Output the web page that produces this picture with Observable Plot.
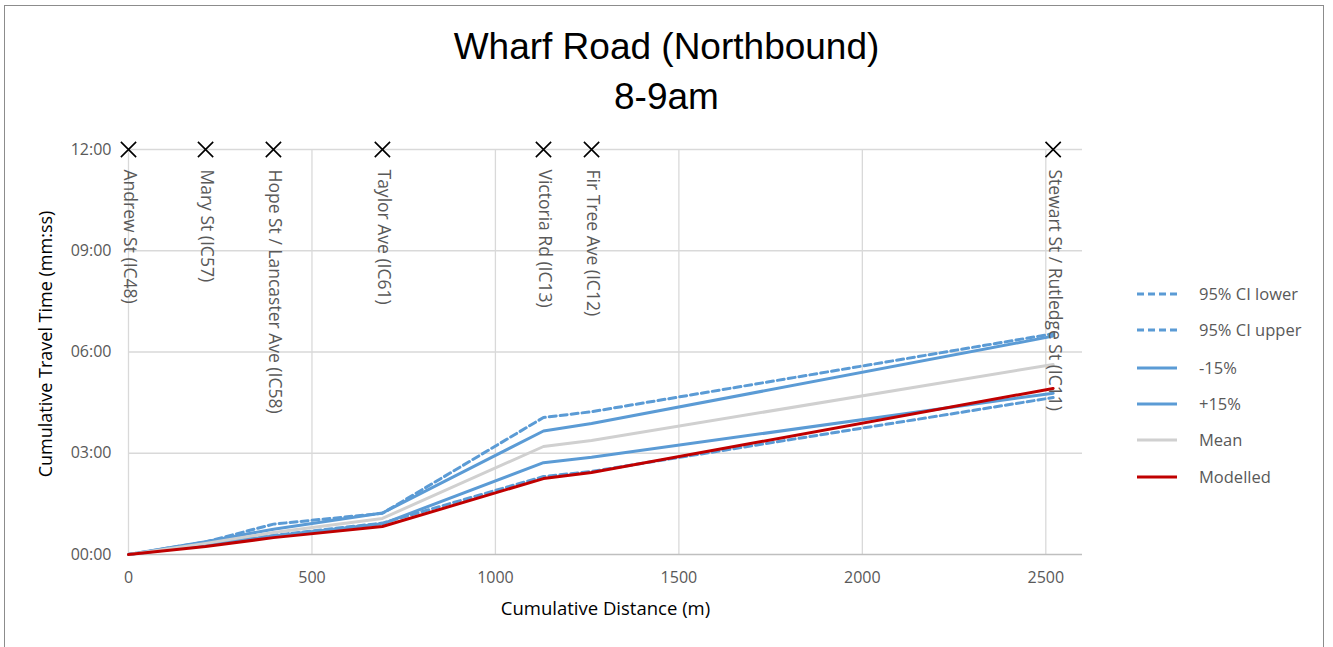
<!DOCTYPE html>
<html>
<head>
<meta charset="utf-8">
<script src="https://cdn.jsdelivr.net/npm/d3@7"></script>
<script src="https://cdn.jsdelivr.net/npm/@observablehq/plot@0.6"></script>
<style>
  body { margin: 0; background: #fff; }
  #wrap { position: relative; width: 1333px; height: 647px; overflow: hidden; font-family: "Open Sans", sans-serif; }
  #border { position: absolute; left: 4px; top: 5px; width: 1320px; height: 700px; border: 1.5px solid #8c8c8c; box-sizing: border-box; }
  #title { position: absolute; left: 0; top: 22px; width: 1333px; text-align: center; font-family: "Liberation Sans Narrow", "Arial Narrow", "Liberation Sans", sans-serif; font-size: 37px; line-height: 50px; color: #000; }
  #chart { position: absolute; left: 0; top: 125px; }
  #legend { position: absolute; left: 1137px; top: 280px; font-size: 16.5px; color: #595959; }
  .row { position: absolute; left: 0; height: 20px; width: 190px; white-space: nowrap; }
  .row svg { position: absolute; left: 0; top: 4px; }
  .row span { position: absolute; left: 62px; top: 0; line-height: 20px; }
</style>
</head>
<body>
<div id="wrap">
  <div id="border"></div>
  <div id="title">Wharf Road (Northbound)<br>8-9am</div>
  <div id="chart"></div>
  <div id="legend"></div>
</div>
<script>
// ---- data ----
const distances = [0, 210, 395, 692, 1131, 1262, 2520];
const intersections = ["Andrew St (IC48)", "Mary St (IC57)", "Hope St / Lancaster Ave (IC58)", "Taylor Ave (IC61)", "Victoria Rd (IC13)", "Fir Tree Ave (IC12)", "Stewart St / Rutledge St (IC11)"];
// cumulative travel time, minutes
const ciLower  = [0, 0.30, 0.57, 0.93, 2.31, 2.46, 4.65];
const ciUpper  = [0, 0.37, 0.90, 1.22, 4.06, 4.23, 6.54];
const minus15  = [0, 0.28, 0.55, 0.91, 2.72, 2.88, 4.78];
const plus15   = [0, 0.38, 0.75, 1.23, 3.66, 3.88, 6.47];
const meanTime = [0, 0.33, 0.65, 1.07, 3.20, 3.38, 5.63];
const modelled = [0, 0.24, 0.50, 0.83, 2.25, 2.43, 4.92];
const xTicks = [0, 500, 1000, 1500, 2000, 2500];
const yTicks = [0, 3, 6, 9, 12];
const yTickLabels = ["00:00", "03:00", "06:00", "09:00", "12:00"];
const seriesNames = ["95% CI lower", "95% CI upper", "-15%", "+15%", "Mean", "Modelled"];
const seriesValues = [ciLower, ciUpper, minus15, plus15, meanTime, modelled];

// ---- styles ----
const blue = "#5B9BD5", grey = "#D0D0D0", red = "#C00000";
const styles = {
  "95% CI lower": {stroke: blue, dash: "7,4"},
  "95% CI upper": {stroke: blue, dash: "7,4"},
  "-15%": {stroke: blue, dash: null},
  "+15%": {stroke: blue, dash: null},
  "Mean": {stroke: grey, dash: null},
  "Modelled": {stroke: red, dash: null}
};

const rows = [];
seriesNames.forEach((s, i) => distances.forEach((d, j) => rows.push({series: s, d, t: seriesValues[i][j]})));
const markers = distances.map((d, i) => ({d, name: intersections[i], t: 12}));

const lineMarks = seriesNames.map(s => Plot.line(rows.filter(r => r.series === s), {
  x: "d", y: "t", stroke: styles[s].stroke, strokeWidth: 3, strokeDasharray: styles[s].dash, strokeLinejoin: "round"
}));

const tickLab = new Map(yTicks.map((v, i) => [v, yTickLabels[i]]));

const chart = Plot.plot({
  width: 1333,
  height: 522,
  marginLeft: 128,
  marginRight: 251,
  marginTop: 24,
  marginBottom: 93,
  style: {fontFamily: "Open Sans, sans-serif", fontSize: "16px", color: "#595959", background: "transparent"},
  x: {domain: [0, 2600]},
  y: {domain: [0, 12]},
  marks: [
    Plot.ruleX(xTicks, {stroke: "#d9d9d9", strokeWidth: 1.3}),
    Plot.ruleY(yTicks.filter(v => v > 0), {stroke: "#d9d9d9", strokeWidth: 1.3}),
    Plot.ruleY([0], {stroke: "#bfbfbf", strokeWidth: 1.5}),
    Plot.axisX({ticks: xTicks, tickSize: 0, tickPadding: 17, tickFormat: d => String(d), fill: "#595959", label: null, fontSize: 16}),
    Plot.axisY({ticks: yTicks, tickSize: 0, tickPadding: 17, tickFormat: v => tickLab.get(v), fill: "#595959", label: null, fontSize: 16}),
    ...lineMarks,
    Plot.dot(markers, {x: "d", y: "t", symbol: "times", r: 7, stroke: "#000", strokeWidth: 1.6}),
    Plot.text(markers, {x: "d", y: "t", text: "name", rotate: 90, textAnchor: "start", dy: 20, dx: 1, fontSize: 17.5, fill: "#595959"}),
    Plot.text(["Cumulative Distance (m)"], {frameAnchor: "bottom", textAnchor: "middle", dy: 60, fontSize: 18.5, fill: "#000"}),
    Plot.text(["Cumulative Travel Time (mm:ss)"], {frameAnchor: "left", textAnchor: "middle", rotate: -90, dx: -82, dy: -8, fontSize: 18, fill: "#000"})
  ]
});
document.getElementById("chart").appendChild(chart);

// ---- legend ----
const legend = document.getElementById("legend");
const rowY = [294, 330, 368, 404, 440, 477];
seriesNames.forEach((s, i) => {
  const div = document.createElement("div");
  div.className = "row";
  div.style.top = (rowY[i] - 280 - 10) + "px";
  const st = styles[s];
  div.innerHTML = `<svg width="42" height="12"><line x1="0" y1="6" x2="40" y2="6" stroke="${st.stroke}" stroke-width="3" ${st.dash ? `stroke-dasharray="${st.dash}"` : ""}/></svg><span>${s}</span>`;
  legend.appendChild(div);
});
</script>
</body>
</html>
